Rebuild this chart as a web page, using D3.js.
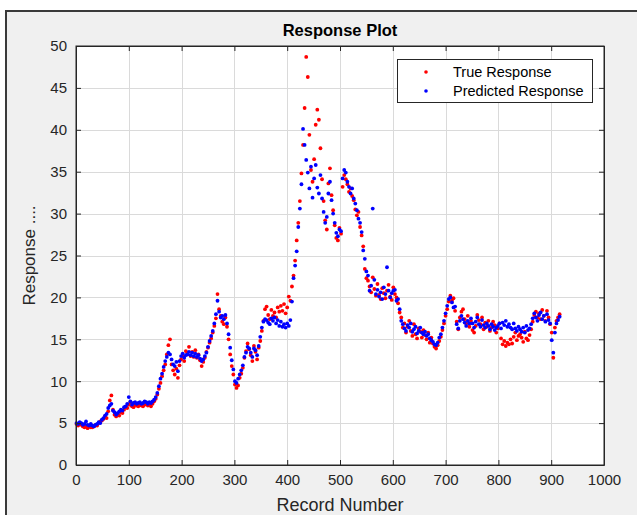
<!DOCTYPE html>
<html><head><meta charset="utf-8">
<script src="https://cdn.jsdelivr.net/npm/d3@7/dist/d3.min.js"></script>
<style>
html,body{margin:0;padding:0;background:#fff;}
svg{display:block;}
</style></head>
<body>
<svg id="chart" width="637" height="515"></svg>
<script>
// ---- data ----
const recordStart = 1;
const recordStep = 3;
const xTicks = [0,100,200,300,400,500,600,700,800,900,1000];
const yTicks = [0,5,10,15,20,25,30,35,40,45,50];
const seriesNames = ["True Response","Predicted Response"];
const trueResponse = [
4.9,4.7,5.0,4.8,4.6,4.5,4.7,4.4,4.6,4.5,
4.5,4.6,4.8,4.7,5.0,5.2,5.3,5.5,5.8,5.6,
6.4,7.7,8.3,6.6,6.0,5.8,6.1,5.9,6.3,6.2,
6.6,6.9,6.8,7.2,7.5,7.0,6.9,7.2,7.1,7.0,
7.3,7.1,7.0,7.2,7.4,7.1,7.2,7.0,7.3,7.6,
7.9,8.4,9.1,9.8,10.6,11.3,12.0,13.2,14.3,15.0,
12.0,11.3,10.8,11.5,10.4,11.9,12.6,13.0,12.4,13.6,
13.4,14.1,13.0,13.5,12.9,13.7,12.8,13.2,12.5,11.8,
12.3,12.8,13.5,14.0,14.6,15.1,15.8,16.6,17.5,20.4,
18.6,17.8,17.1,16.8,17.6,16.5,15.0,13.2,11.8,10.8,
9.6,9.2,9.5,10.4,10.9,11.6,12.8,13.6,14.5,13.8,
13.1,12.4,14.2,13.5,12.6,14.0,14.8,16.0,17.2,18.6,
18.9,17.9,17.4,18.5,17.8,18.2,17.6,18.8,18.3,19.0,
18.4,19.2,18.1,18.8,20.1,19.6,21.3,22.6,24.4,26.8,
28.9,31.5,34.8,38.2,42.6,48.7,46.3,39.4,35.2,33.8,
36.5,40.6,42.4,41.2,37.8,34.1,31.5,29.2,28.1,33.6,
35.4,32.2,30.4,28.6,27.1,26.8,28.3,27.6,33.2,34.6,
34.1,33.5,32.6,33.0,32.1,31.6,30.5,29.8,30.2,28.4,
27.4,26.1,23.4,22.3,22.0,21.3,20.6,22.4,21.0,20.2,
21.6,20.3,19.8,21.1,20.5,19.9,20.8,21.5,20.1,19.7,
21.2,20.4,20.0,19.3,18.2,17.6,16.4,16.9,15.8,16.5,
17.2,16.0,15.4,16.8,15.6,15.1,16.3,15.9,15.2,16.1,
15.5,15.0,15.8,14.6,15.2,14.5,14.1,13.9,14.3,14.8,
15.3,16.1,16.9,17.8,18.6,19.5,20.2,19.6,19.9,18.4,
17.1,16.2,17.6,18.3,18.6,17.4,16.9,17.8,16.5,17.2,
16.1,15.8,16.6,17.9,17.3,16.8,17.6,16.2,17.0,16.5,
17.2,16.0,16.4,17.1,16.7,15.8,16.3,16.9,15.1,14.4,
14.8,14.2,14.6,14.4,15.0,14.5,15.3,15.8,14.9,15.4,
15.6,15.2,14.7,15.9,15.1,14.9,15.5,16.2,17.1,17.9,
18.3,17.6,18.1,17.4,18.5,17.8,17.2,18.4,17.6,16.8,
15.8,12.8,16.4,17.2,17.6,18.0
];
const predictedResponse = [
5.0,4.9,5.1,5.0,4.8,4.9,5.2,4.8,4.7,4.9,
4.7,4.6,4.8,4.9,5.1,5.0,5.4,5.6,5.9,6.1,
6.8,7.1,7.3,6.5,6.3,6.0,6.2,6.4,6.6,6.5,
6.9,7.0,7.3,8.1,7.6,7.2,7.4,7.5,7.3,7.4,
7.5,7.3,7.4,7.6,7.5,7.3,7.5,7.4,7.6,7.8,
8.1,8.6,9.4,10.3,10.9,11.7,12.4,12.9,13.4,13.2,
12.6,12.0,11.8,12.3,11.2,12.4,13.0,13.3,12.8,13.1,
13.2,13.5,13.1,13.4,13.0,13.3,12.9,13.1,12.7,12.4,
12.6,13.0,13.4,14.1,14.8,15.4,16.0,16.9,18.0,19.6,
18.3,17.6,17.8,17.4,17.9,16.9,15.6,14.0,12.5,11.4,
10.0,9.8,10.3,10.8,11.3,11.9,12.9,13.4,14.1,13.9,
13.4,12.9,13.9,13.7,13.1,14.2,15.3,16.4,17.1,17.4,
17.3,17.0,16.8,17.5,17.2,17.6,16.9,17.3,16.6,17.1,
16.5,16.8,16.4,16.9,16.6,17.3,19.5,22.3,23.8,25.5,
28.4,30.6,33.5,40.1,38.2,36.4,34.9,33.0,35.6,31.9,
34.2,35.8,33.1,32.4,34.6,31.8,30.2,28.9,29.6,32.4,
33.8,31.6,30.0,28.9,27.7,27.3,28.1,27.9,34.2,35.2,
34.9,33.8,33.2,32.4,33.0,31.8,31.2,30.4,29.4,28.9,
27.8,25.6,24.6,23.1,22.6,20.8,21.4,30.6,22.1,20.4,
20.9,20.1,20.6,19.8,21.2,20.4,23.6,20.8,20.0,20.5,
20.8,20.9,19.6,19.8,18.6,17.2,16.8,16.3,16.0,16.7,
16.4,16.9,15.9,16.2,16.5,15.7,16.0,16.4,15.8,15.6,
15.9,15.4,15.6,15.1,14.9,14.7,14.4,14.3,14.6,15.2,
15.6,16.4,17.2,18.1,19.0,19.8,20.0,19.4,18.8,18.9,
16.8,16.3,17.2,17.8,17.4,17.0,16.6,17.2,16.9,17.5,
16.9,16.4,17.1,17.6,16.8,16.5,17.3,16.7,16.4,16.9,
16.6,16.2,16.8,16.5,16.1,16.4,16.6,16.9,16.3,17.0,
16.7,17.2,16.5,16.8,16.4,16.2,16.9,16.3,16.0,16.5,
16.2,15.9,16.4,15.8,16.6,16.1,16.3,16.8,17.5,18.1,
17.6,17.2,17.9,18.2,17.4,17.8,17.1,18.0,17.3,16.9,
14.9,13.4,15.8,16.9,17.3,17.7
];

// ---- drawing ----
const svg = d3.select("#chart");
const font = "'Liberation Sans', Arial, Helvetica, sans-serif";
const W = 637, H = 515;
const L = 76, R = 604, T = 46, B = 465;

// figure frame
svg.append("rect").attr("x",6).attr("y",11).attr("width",W+10).attr("height",H+10)
  .attr("fill","#f0f0f0").attr("stroke","#3a3a3a").attr("stroke-width",2);

const x = d3.scaleLinear().domain([0,1000]).range([L,R]);
const y = d3.scaleLinear().domain([0,50]).range([B,T]);

svg.append("rect").attr("x",L).attr("y",T).attr("width",R-L).attr("height",B-T).attr("fill","#fff");

// grid
const g = svg.append("g");
g.selectAll(".gx").data(xTicks.slice(1,-1)).join("line")
  .attr("x1",d=>Math.round(x(d))+0.5).attr("x2",d=>Math.round(x(d))+0.5)
  .attr("y1",T).attr("y2",B).attr("stroke","#dadada").attr("stroke-width",1);
g.selectAll(".gy").data(yTicks.slice(1,-1)).join("line")
  .attr("y1",d=>Math.round(y(d))+0.5).attr("y2",d=>Math.round(y(d))+0.5)
  .attr("x1",L).attr("x2",R).attr("stroke","#dadada").attr("stroke-width",1);

// data points
const recs = trueResponse.map((_,i)=>recordStart + i*recordStep);
const pts = svg.append("g");
pts.selectAll("circle.t").data(trueResponse).join("circle").attr("class","t")
  .attr("cx",(d,i)=>x(recs[i])).attr("cy",d=>y(d)).attr("r",1.9).attr("fill","#ff0000");
pts.selectAll("circle.p").data(predictedResponse).join("circle").attr("class","p")
  .attr("cx",(d,i)=>x(recs[i])).attr("cy",d=>y(d)).attr("r",1.9).attr("fill","#0000ff");

// axes (MATLAB-like box, inward ticks)
const tickLen = 5;
const axisColor = "#262626";
const ax = svg.append("g");
const fmt = d3.format("d");
const xb = d3.axisBottom(x).tickValues(xTicks).tickFormat(fmt).tickSizeInner(-tickLen).tickSizeOuter(0).tickPadding(9);
const xt = d3.axisTop(x).tickValues(xTicks).tickSizeInner(-tickLen).tickSizeOuter(0).tickFormat("");
const yl = d3.axisLeft(y).tickValues(yTicks).tickFormat(fmt).tickSizeInner(-tickLen).tickSizeOuter(0).tickPadding(9);
const yr = d3.axisRight(y).tickValues(yTicks).tickSizeInner(-tickLen).tickSizeOuter(0).tickFormat("");
function styleAxis(sel){
  sel.selectAll("path.domain").attr("stroke",axisColor);
  sel.selectAll(".tick line").attr("stroke",axisColor);
  sel.selectAll(".tick text").attr("fill",axisColor).style("font-family",font).style("font-size","15px");
}
ax.append("g").attr("transform",`translate(0,${B})`).call(xb).call(styleAxis);
ax.append("g").attr("transform",`translate(0,${T})`).call(xt).call(styleAxis);
ax.append("g").attr("transform",`translate(${L},0)`).call(yl).call(styleAxis);
ax.append("g").attr("transform",`translate(${R},0)`).call(yr).call(styleAxis);
svg.append("rect").attr("x",L).attr("y",T).attr("width",R-L).attr("height",B-T)
  .attr("fill","none").attr("stroke",axisColor).attr("stroke-width",1);

// title & labels
svg.append("text").attr("x",(L+R)/2).attr("y",36).attr("text-anchor","middle")
  .style("font-family",font).style("font-size","16.5px").style("font-weight","bold").attr("fill","#000")
  .text("Response Plot");
svg.append("text").attr("x",(L+R)/2).attr("y",511).attr("text-anchor","middle")
  .style("font-family",font).style("font-size","18px").attr("fill",axisColor).text("Record Number");
svg.append("text").attr("transform",`translate(35,${(T+B)/2}) rotate(-90)`).attr("text-anchor","middle")
  .style("font-family",font).style("font-size","17px").attr("fill",axisColor).text("Response ....");

// legend
const lg = svg.append("g");
lg.append("rect").attr("x",397.5).attr("y",59.5).attr("width",195).attr("height",43)
  .attr("fill","#fff").attr("stroke",axisColor).attr("stroke-width",1);
const colors = ["#ff0000","#0000ff"];
seriesNames.forEach((n,i)=>{
  const yy = 72 + i*19;
  lg.append("circle").attr("cx",426).attr("cy",yy).attr("r",1.8).attr("fill",colors[i]);
  lg.append("text").attr("x",453).attr("y",yy+5).style("font-family",font).style("font-size","14.5px")
    .attr("fill","#000").text(n);
});
</script>
</body></html>
